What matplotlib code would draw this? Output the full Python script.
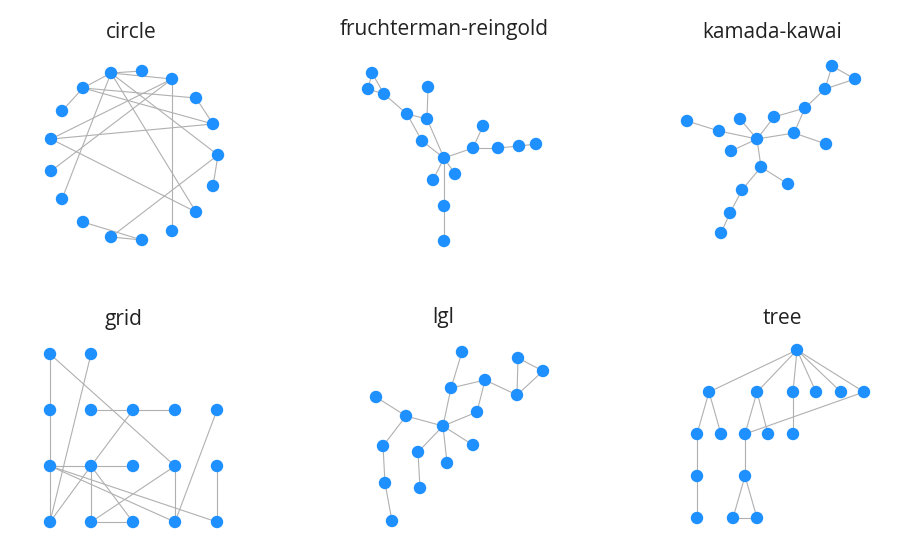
import matplotlib
matplotlib.use('Agg')
import matplotlib.pyplot as plt

# node positions per layout (pixel-like units, y down)
circle_pos = [(111, 73), (142, 71), (172, 79), (83, 88), (196, 98), (62, 111), (213, 124),
              (51, 139), (218, 155), (51, 171), (213, 186), (62, 199), (196, 212), (83, 222),
              (172, 231), (111, 237), (142, 240)]
circle_edges = [(0, 1), (0, 2), (0, 11), (0, 12), (0, 8), (2, 14), (2, 7), (2, 9), (3, 4),
                (3, 6), (3, 5), (3, 0), (4, 6), (6, 7), (7, 12), (8, 10), (8, 15), (13, 16),
                (15, 16)]

fr_pos = [(372, 73), (368, 89), (384, 94), (428, 87), (407, 114), (427, 119), (483, 126),
          (422, 141), (473, 148), (498, 148), (519, 146), (536, 144), (444, 158), (455, 174),
          (433, 180), (444, 206), (444, 241)]
fr_edges = [(0, 1), (0, 2), (1, 2), (2, 4), (4, 5), (3, 5), (5, 12), (4, 7), (7, 12), (12, 8),
            (8, 6), (8, 9), (9, 10), (10, 11), (12, 13), (12, 14), (12, 15), (15, 16)]

kk_pos = [(832, 66), (855, 79), (825, 89), (805, 108), (774, 117), (740, 119), (687, 121),
          (719, 131), (794, 133), (757, 139), (826, 144), (731, 151), (761, 167), (788, 184),
          (742, 190), (730, 213), (721, 233)]
kk_edges = [(0, 1), (0, 2), (1, 2), (2, 3), (3, 4), (3, 8), (4, 9), (8, 9), (8, 10), (5, 9),
            (6, 7), (7, 9), (11, 9), (9, 12), (12, 13), (12, 14), (14, 15), (15, 16)]

grid_cols = [50, 91, 133, 175, 217]
grid_rows = [354, 410, 466, 522]
grid_cells = [(0, 0), (0, 1)] + [(r, c) for r in (1, 2, 3) for c in range(5)]
grid_pos = [(grid_cols[c], grid_rows[r]) for r, c in grid_cells]
grid_edges_rc = [((0, 0), (1, 0)), ((0, 0), (2, 3)), ((0, 1), (3, 0)), ((1, 0), (2, 0)),
                 ((1, 1), (1, 2)), ((1, 2), (1, 3)), ((1, 2), (2, 1)), ((1, 4), (3, 3)),
                 ((2, 0), (2, 1)), ((2, 1), (2, 2)), ((2, 0), (3, 0)), ((2, 0), (3, 3)),
                 ((2, 0), (3, 4)), ((2, 1), (3, 0)), ((2, 1), (3, 1)), ((2, 1), (3, 2)),
                 ((2, 3), (3, 1)), ((2, 3), (3, 3)), ((2, 4), (3, 4)), ((3, 1), (3, 2))]
grid_edges = [(grid_cells.index(a), grid_cells.index(b)) for a, b in grid_edges_rc]

lgl_pos = [(462, 352), (518, 358), (543, 371), (485, 380), (451, 388), (517, 395), (376, 397),
           (477, 412), (406, 416), (443, 426), (473, 445), (383, 446), (418, 452), (447, 463),
           (385, 483), (420, 488), (392, 521)]
lgl_edges = [(0, 4), (4, 3), (3, 5), (1, 5), (1, 2), (2, 5), (3, 7), (7, 9), (4, 9), (6, 8),
             (8, 9), (8, 11), (11, 14), (14, 16), (9, 12), (12, 15), (9, 13), (9, 10)]

tree_pos = [(797, 350), (709, 392), (757, 392), (793, 392), (816, 392), (841, 392), (864, 392),
            (697, 434), (721, 434), (745, 434), (768, 434), (793, 434), (697, 476), (745, 476),
            (697, 518), (733, 518), (757, 518)]
tree_edges = [(0, 1), (0, 2), (0, 3), (0, 4), (0, 5), (0, 6), (1, 7), (1, 8), (2, 9), (2, 10),
              (3, 11), (6, 9), (7, 12), (12, 14), (9, 13), (13, 15), (13, 16), (15, 16)]

titles = [("circle", 131, 32), ("fruchterman-reingold", 444, 30), ("kamada-kawai", 772, 32),
          ("grid", 124, 320), ("lgl", 443, 317), ("tree", 782, 318)]

layouts = [(circle_pos, circle_edges), (fr_pos, fr_edges), (kk_pos, kk_edges),
           (grid_pos, grid_edges), (lgl_pos, lgl_edges), (tree_pos, tree_edges)]

fig = plt.figure(figsize=(9.15, 5.45), dpi=100)
ax = fig.add_axes([0, 0, 1, 1])
ax.set_xlim(0, 915)
ax.set_ylim(545, 0)
ax.axis('off')

for pos, edges in layouts:
    for a, b in edges:
        ax.plot([pos[a][0], pos[b][0]], [pos[a][1], pos[b][1]],
                color='#b0b0b0', lw=0.8, zorder=1)
    ax.scatter([p[0] for p in pos], [p[1] for p in pos], s=80,
               color='#1e90ff', edgecolors='none', zorder=2)

for t, x, y in titles:
    ax.text(x, y, t, ha='center', va='center', fontsize=15, color='#222222',
            family='Open Sans')

fig.savefig('out.png', dpi=100)
